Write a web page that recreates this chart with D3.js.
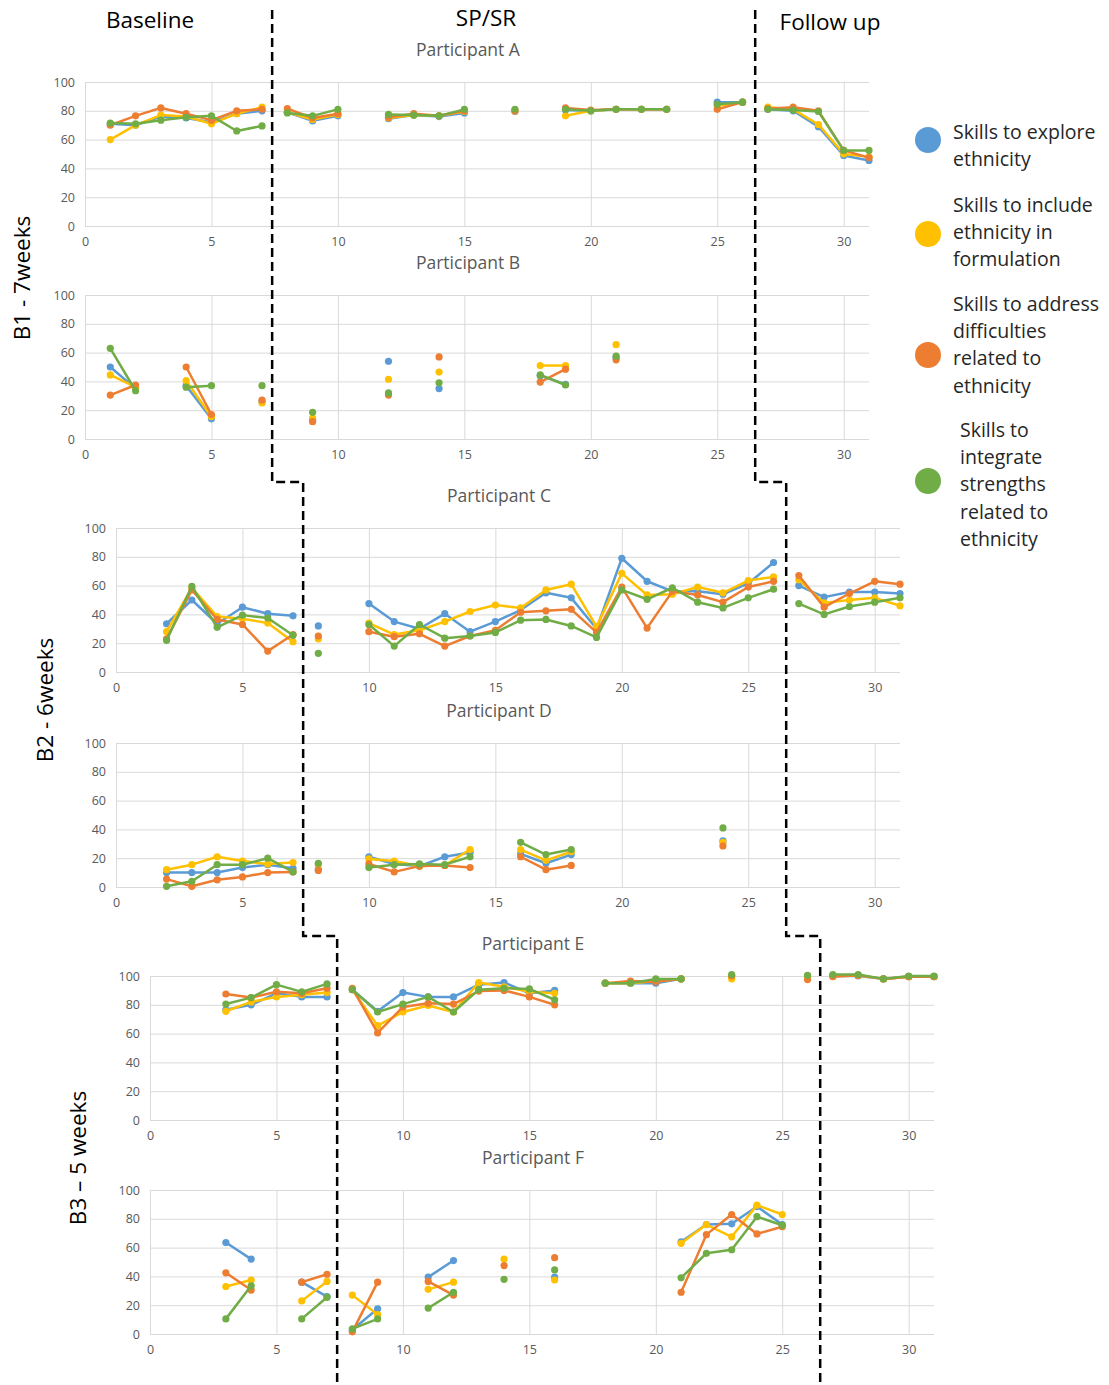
<!DOCTYPE html>
<html>
<head>
<meta charset="utf-8">
<script src="https://cdn.jsdelivr.net/npm/d3@7"></script>
<style>
  body { margin: 0; background: #fff; }
  svg text { font-family: "Open Sans", "Liberation Sans", sans-serif; }
</style>
</head>
<body>
<div id="chart"></div>
<script>
// weeks 1..31, null = no session
var weeks = d3.range(1, 32);
var seriesNames = ["Skills to explore ethnicity", "Skills to include ethnicity in formulation",
  "Skills to address difficulties related to ethnicity", "Skills to integrate strengths related to ethnicity"];
var colors = ["#5B9BD5", "#FFC000", "#ED7D31", "#70AD47"];
var phaseBreaks = [7.4, 26.5];   // dashed lines: baseline | SP/SR | follow up
var yTicks = [0, 20, 40, 60, 80, 100];
var xTicks = [0, 5, 10, 15, 20, 25, 30];

var partA = [
  [71,70,76,75,72,78,80,79,73,76.5,null,74.5,77,76,78.5,null,79.5,null,80.5,80,81,81,81,null,86,86,81,80,69,49,45.5],
  [60,70,77,76,71,78,82.5,79,74,77.5,null,75,77,76.5,79.5,null,80,null,76.5,80,81,81,81,null,83.5,86,82.5,81,70.5,50,48],
  [70,76.5,82,78,73.5,80,81,81.5,75,78,null,75.5,78,76.5,80,null,80,null,82,80.5,81,81,81,null,81,86,81.5,82.5,80,52.5,47.5],
  [71.5,71,73.5,75.5,76.5,66,69.5,78.5,76.5,81,null,77.5,77,76.5,81,null,81,null,81,80,81,81,81,null,84.5,86,81,80.5,79.5,52.5,52.5]
];
var partB = [
  [50,35,null,37,14,null,26,null,13,null,null,54,null,35,null,null,null,44,38,null,56.5,null,null,null,null,null,null,null,null,null,null],
  [44.5,36,null,40.5,15.5,null,25,null,14.5,null,null,41.5,null,46.5,null,null,null,51,51,null,65.5,null,null,null,null,null,null,null,null,null,null],
  [30.5,37.5,null,50,17,null,27,null,12,null,null,30.5,null,57,null,null,null,39.5,48.5,null,55,null,null,null,null,null,null,null,null,null,null],
  [63,33.5,null,36,37,null,37,null,18.5,null,null,32,null,39,null,null,null,44.5,37.5,null,57.5,null,null,null,null,null,null,null,null,null,null]
];
var partC = [
  [null,33.5,50,33.5,45,40.5,39,32,null,47.5,35,30,40.5,28,35,43,55,51.5,30,79,63,56,56,54,61.5,76,60,52,55.5,55.5,54.5],
  [null,28,58.5,38.5,37,34,21,23,null,34,26,29,35,42,46.5,44.5,57,61,31.5,68.5,53.5,54,59,55,63.5,66,64,48,50,51.5,46],
  [null,23,57,36.5,33,14.5,26,25,null,28,24.5,26.5,18,25,29,41.5,42.5,43.5,27.5,59,30.5,56,53.5,48.5,59,63,67,45,54.5,63,61],
  [null,22,59.5,31,39.5,37.5,25.5,13,null,33,18,33,23.5,25,27.5,36,36.5,32,24,57,50.5,58.5,48.5,44.5,51.5,57.5,47.5,40,45.5,48.5,51.5]
];
var partD = [
  [null,10,10,10,13.5,15.5,13,12,null,21,16,14.5,21,24,null,23,16.5,22.5,null,null,null,null,null,32,null,null,null,null,null,null,null],
  [null,12,15.5,21,18,16,17,15.5,null,19.5,18,14.5,15,26,null,26,18.5,24.5,null,null,null,null,null,31,null,null,null,null,null,null,null],
  [null,5.5,0.5,5,7,10,10.5,11.5,null,16,10.5,14.5,15,13.5,null,21,12,15,null,null,null,null,null,28.5,null,null,null,null,null,null,null],
  [null,0.5,4,15.5,15.5,20,10.5,16.5,null,13.5,15.5,16,15.5,21,null,31,22.5,26,null,null,null,null,null,41,null,null,null,null,null,null,null]
];
var partE = [
  [null,null,76.5,80,88,85.5,85.5,90.5,75.5,88.5,85.5,85.5,94,95.5,88,90,null,95,95,95,98,null,100,null,null,100,100,100,98,99.5,99.5],
  [null,null,75.5,82,85.5,87,88.5,90.5,65.5,75,79.5,75,95.5,92.5,89,88,null,95,95,96.5,98,null,98,null,null,99.5,100,100.5,98,99.5,99.5],
  [null,null,87.5,85,89,88,91.5,91.5,60.5,78.5,81,80.5,89.5,90,85.5,80,null,95,96.5,96,98,null,100,null,null,97.5,99.5,100.5,98,99.5,99.5],
  [null,null,80.5,85,94,89,94.5,90.5,75,80.5,85.5,75,90.5,91.5,91,83.5,null,95,95,98,98,null,101,null,null,100.5,101,101,98,100,100]
];
var partF = [
  [null,null,63.5,52,null,36,26,3,17.5,null,39.5,51,null,null,null,39.5,null,null,null,null,64,76,76.5,88.5,76,null,null,null,null,null,null],
  [null,null,33,37.5,null,23,36.5,27,13.5,null,31,36,null,52,null,37.5,null,null,null,null,63,76,67.5,89.5,83,null,null,null,null,null,null],
  [null,null,42.5,30.5,null,36,41.5,1.5,36,null,36.5,27,null,47.5,null,53,null,null,null,null,29,69,83,69.5,74.5,null,null,null,null,null,null],
  [null,null,10.5,33.5,null,10.5,25.5,3.5,10.5,null,18,29,null,38,null,44.5,null,null,null,null,39,56,58.5,81.5,75.5,null,null,null,null,null,null]
];

var panels = [
  {title: "Participant A", data: partA, left: 85, top: 82},
  {title: "Participant B", data: partB, left: 85, top: 295},
  {title: "Participant C", data: partC, left: 116, top: 528},
  {title: "Participant D", data: partD, left: 116, top: 743},
  {title: "Participant E", data: partE, left: 150, top: 976},
  {title: "Participant F", data: partF, left: 150, top: 1190}
];
var plotW = 784, plotH = 144;

var svg = d3.select("#chart").append("svg")
    .attr("width", 1109)
    .attr("height", 1385);

function phaseOf(w) {
    return w < phaseBreaks[0] ? 0 : (w < phaseBreaks[1] ? 1 : 2);
}

panels.forEach(function(p) {
    p.x = d3.scaleLinear().domain([0, 31]).range([p.left, p.left + plotW]);
    p.y = d3.scaleLinear().domain([0, 100]).range([p.top + plotH, p.top]);

    var g = svg.append("g").attr("class", "panel");

    // horizontal gridlines + y labels
    g.append("g")
        .attr("transform", "translate(" + p.left + ",0)")
        .call(d3.axisLeft(p.y).tickValues(yTicks).tickSize(-plotW).tickPadding(10))
        .call(function(a) {
            a.select(".domain").remove();
            a.selectAll("line").attr("stroke", "#d9d9d9");
            a.selectAll("text").attr("fill", "#595959").style("font-size", "12.5px");
        });

    // vertical gridlines + x labels
    g.append("g")
        .attr("transform", "translate(0," + (p.top + plotH) + ")")
        .call(d3.axisBottom(p.x).tickValues(xTicks).tickSize(-plotH).tickPadding(11))
        .call(function(a) {
            a.select(".domain").remove();
            a.selectAll("line").attr("stroke", "#d9d9d9");
            a.selectAll("text").attr("fill", "#595959").style("font-size", "12.5px");
        });

    g.append("text")
        .attr("x", p.left + plotW / 2 - 9)
        .attr("y", p.top - 26)
        .attr("text-anchor", "middle")
        .attr("fill", "#595959")
        .style("font-size", "17.5px")
        .text(p.title);

    var line = d3.line()
        .defined(function(d) { return d.v != null; })
        .x(function(d) { return p.x(d.w); })
        .y(function(d) { return p.y(d.v); });

    p.data.forEach(function(vals, si) {
        var pts = weeks.map(function(w, i) { return {w: w, v: vals[i]}; });
        var sg = g.append("g").attr("class", "series");
        [0, 1, 2].forEach(function(ph) {
            var seg = pts.filter(function(d) { return phaseOf(d.w) == ph; });
            sg.append("path")
                .attr("d", line(seg))
                .attr("fill", "none")
                .attr("stroke", colors[si])
                .attr("stroke-width", 2.5)
                .attr("stroke-linejoin", "round");
        });
        sg.selectAll("circle")
            .data(pts.filter(function(d) { return d.v != null; }))
            .enter().append("circle")
            .attr("cx", function(d) { return p.x(d.w); })
            .attr("cy", function(d) { return p.y(d.v); })
            .attr("r", 3.6)
            .attr("fill", colors[si]);
    });
});

// dashed phase lines, stepping across the panel rows
var stepY = [10, 482, 936, 1385];
phaseBreaks.forEach(function(b) {
    var pts = [];
    [0, 2, 4].forEach(function(pi, k) {
        var xx = panels[pi].x(b);
        pts.push([xx, stepY[k]]);
        pts.push([xx, stepY[k + 1]]);
    });
    svg.append("path")
        .attr("d", d3.line()(pts))
        .attr("fill", "none")
        .attr("stroke", "#000")
        .attr("stroke-width", 2.5)
        .attr("stroke-dasharray", "9,5");
});

// phase headers
var headers = [{t: "Baseline", x: 150, y: 28}, {t: "SP/SR", x: 486, y: 26}, {t: "Follow up", x: 830, y: 30}];
svg.selectAll(".hdr").data(headers).enter().append("text")
    .attr("class", "hdr")
    .attr("x", function(d) { return d.x; })
    .attr("y", function(d) { return d.y; })
    .attr("text-anchor", "middle")
    .style("font-size", "22.5px")
    .text(function(d) { return d.t; });

// row (baseline length) labels
var rows = [{t: "B1 - 7weeks", x: 22, y: 278}, {t: "B2 - 6weeks", x: 45, y: 700}, {t: "B3 \u2013 5 weeks", x: 78, y: 1158}];
svg.selectAll(".row").data(rows).enter().append("text")
    .attr("class", "row")
    .attr("transform", function(d) { return "translate(" + (d.x + 8) + "," + d.y + ") rotate(-90)"; })
    .attr("text-anchor", "middle")
    .style("font-size", "22.5px")
    .text(function(d) { return d.t; });

// legend
var legendLines = [
    ["Skills to explore", "ethnicity"],
    ["Skills to include", "ethnicity in", "formulation"],
    ["Skills to address", "difficulties", "related to", "ethnicity"],
    ["Skills to", "integrate", "strengths", "related to", "ethnicity"]
];
var legendY = [140, 234, 355, 481];
var legendTextY = [132, 205, 304, 430];   // centre of first line
var legend = svg.append("g").attr("class", "legend");
legendLines.forEach(function(lines, i) {
    legend.append("circle")
        .attr("cx", 928).attr("cy", legendY[i]).attr("r", 13)
        .attr("fill", colors[i]);
    var lx = i == 3 ? 960 : 953;
    var tx = legend.append("text")
        .attr("x", lx)
        .attr("y", legendTextY[i] + 7)
        .style("font-size", "19.5px")
        .attr("fill", "#262626");
    lines.forEach(function(l, j) {
        tx.append("tspan")
            .attr("x", lx)
            .attr("dy", j == 0 ? 0 : 27.2)
            .text(l);
    });
});
</script>
</body>
</html>
